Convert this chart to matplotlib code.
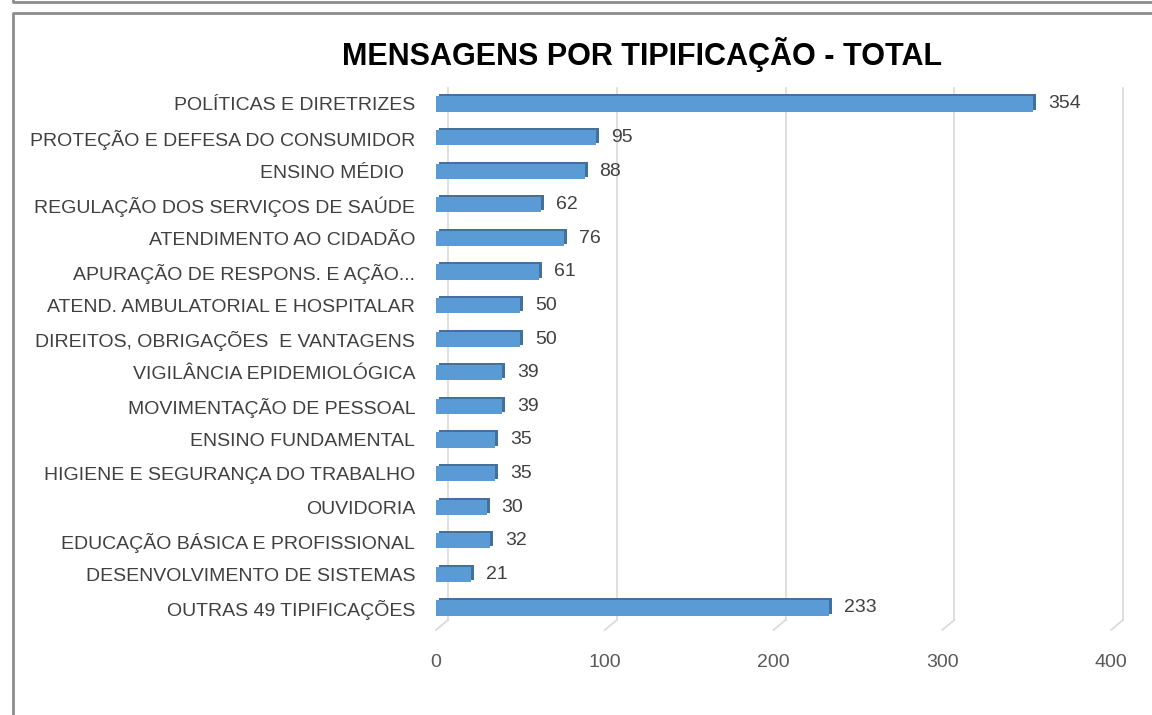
import matplotlib
matplotlib.use("Agg")
import matplotlib.pyplot as plt
import matplotlib.transforms as mtransforms
from matplotlib.lines import Line2D

categories = ["POLÍTICAS E DIRETRIZES", "PROTEÇÃO E DEFESA DO CONSUMIDOR", "ENSINO MÉDIO  ",
              "REGULAÇÃO DOS SERVIÇOS DE SAÚDE", "ATENDIMENTO AO CIDADÃO",
              "APURAÇÃO DE RESPONS. E AÇÃO...", "ATEND. AMBULATORIAL E HOSPITALAR",
              "DIREITOS, OBRIGAÇÕES  E VANTAGENS", "VIGILÂNCIA EPIDEMIOLÓGICA",
              "MOVIMENTAÇÃO DE PESSOAL", "ENSINO FUNDAMENTAL", "HIGIENE E SEGURANÇA DO TRABALHO",
              "OUVIDORIA", "EDUCAÇÃO BÁSICA E PROFISSIONAL", "DESENVOLVIMENTO DE SISTEMAS",
              "OUTRAS 49 TIPIFICAÇÕES"]
values = [354, 95, 88, 62, 76, 61, 50, 50, 39, 39, 35, 35, 30, 32, 21, 233]
xticks = [0, 100, 200, 300, 400]
title = "MENSAGENS POR TIPIFICAÇÃO - TOTAL"

plt.rcParams['font.family'] = ['Liberation Sans', 'DejaVu Sans']

W, H = 1152, 715
fig = plt.figure(figsize=(W / 100, H / 100), dpi=100)
fig.patch.set_facecolor("white")

# axes placement in pixels
x0, x1 = 436, 1111
ytop, ybot = 88, 630
ax = fig.add_axes([x0 / W, 1 - ybot / H, (x1 - x0) / W, (ybot - ytop) / H])
ax.set_xlim(0, 400)
n = len(categories)
ax.set_ylim(n - 1 + 0.655, -0.476)
for s in ax.spines.values():
    s.set_visible(False)
ax.set_facecolor("none")

# 3D back wall gridlines with diagonal floor stubs
dx, dy = 12, 10
axh = ybot - ytop
gtrans = mtransforms.blended_transform_factory(ax.transData, ax.transAxes)
gtrans_back = mtransforms.offset_copy(gtrans, fig=fig, x=dx, y=0, units='dots')
for v in xticks:
    ax.add_line(Line2D([v, v], [dy / axh, 1.0], transform=gtrans_back, color="#d9d9d9",
                       lw=1.2, clip_on=False, zorder=0))
    xd = ax.transData.transform((v, 0))[0]
    yb = fig.bbox.height - ybot
    ax.add_line(Line2D([xd + dx, xd], [yb + dy, yb], transform=None, color="#d9d9d9",
                       lw=1.2, clip_on=False, zorder=0))

ypos = list(range(n))
h = 0.45
depth = mtransforms.offset_copy(ax.transData, fig=fig, x=3, y=2, units='dots')
ax.barh(ypos, values, height=h, color="#41719c", transform=depth, zorder=2)
ax.barh(ypos, values, height=h, color="#5b9bd5", zorder=3)

for y, v in zip(ypos, values):
    ax.annotate(str(v), (v, y), xytext=(15, 0), textcoords='offset pixels',
                ha='left', va='center', fontsize=14, color="#404040", zorder=5)

ax.set_yticks(ypos)
ax.set_yticklabels(categories, fontsize=14, color="#404040")
ax.set_xticks(xticks)
ax.set_xticklabels([str(t) for t in xticks], fontsize=14, color="#595959")
ax.tick_params(axis='y', length=0, pad=15)
ax.tick_params(axis='x', length=0, pad=17)

fig.text(642 / W, 1 - 55 / H, title, ha='center', va='center', fontsize=22,
         fontweight='bold', color="black")

# frames
fig.add_artist(Line2D([13 / W, 13 / W, 1.0], [0.0, 1 - 13 / H, 1 - 13 / H], transform=fig.transFigure,
                      color="#8c8c8c", lw=2))
fig.add_artist(Line2D([13 / W, 13 / W, 1.0], [1.0, 1 - 2 / H, 1 - 2 / H], transform=fig.transFigure,
                      color="#8c8c8c", lw=2))

fig.savefig("out.png", dpi=100)
